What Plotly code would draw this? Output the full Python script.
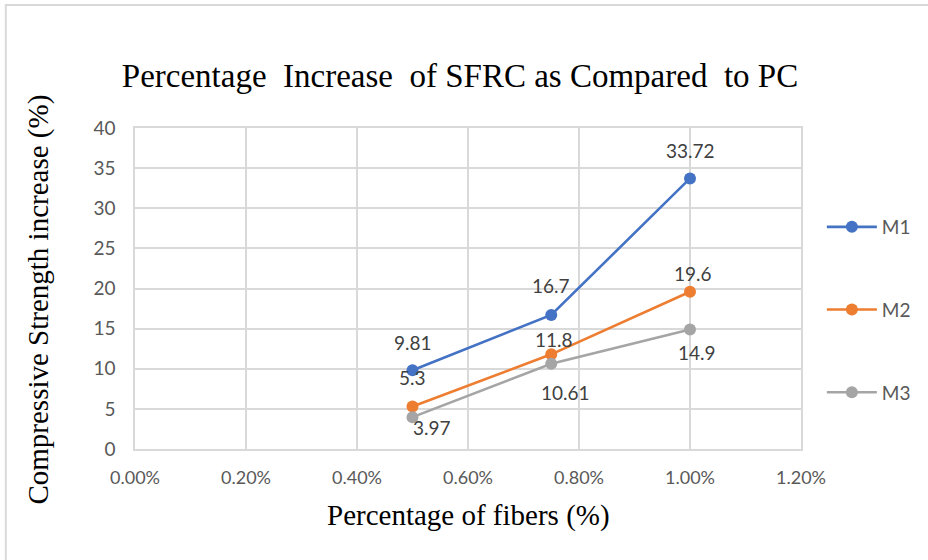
import plotly.graph_objects as go

fibers = [0.005, 0.0075, 0.010]
series_names = ["M1", "M2", "M3"]
m1 = [9.81, 16.7, 33.72]
m2 = [5.3, 11.8, 19.6]
m3 = [3.97, 10.61, 14.9]
x_ticks = [0.0, 0.002, 0.004, 0.006, 0.008, 0.010, 0.012]
x_tick_labels = ["0.00%", "0.20%", "0.40%", "0.60%", "0.80%", "1.00%", "1.20%"]
y_ticks = [0, 5, 10, 15, 20, 25, 30, 35, 40]

colors = ["#4472C4", "#ED7D31", "#A5A5A5"]
# label offsets in pixels (xshift, yshift) per series / point
label_offsets = [
    [(0, 28), (0, 29), (0, 28)],
    [(0, 29), (3, 15), (3, 18)],
    [(19, -10), (14, -29), (7, -23)],
]

fig = go.Figure()
for i, (name, vals) in enumerate(zip(series_names, [m1, m2, m3])):
    fig.add_trace(go.Scatter(
        x=fibers, y=vals, name=name, mode="lines+markers",
        line=dict(color=colors[i], width=2.6),
        marker=dict(color=colors[i], size=12),
        legendgroup=name,
    ))
    for j, (xv, yv) in enumerate(zip(fibers, vals)):
        dx, dy = label_offsets[i][j]
        fig.add_annotation(
            x=xv, y=yv, text=f"{yv:g}", showarrow=False,
            xshift=dx, yshift=dy,
            font=dict(family="Lato, Open Sans, sans-serif", size=19, color="#404040"),
        )

# axis titles
fig.add_annotation(
    xref="paper", yref="paper", x=(37 - 135) / 670, y=(449 - 300) / 321,
    xanchor="center", yanchor="middle",
    text="Compressive Strength increase (%)", textangle=-90, showarrow=False,
    font=dict(family="Liberation Serif, Times New Roman, serif", size=29, color="#000000"),
)
fig.add_annotation(
    xref="paper", yref="paper", x=(470 - 135) / 670, y=(449 - 515) / 321,
    xanchor="center", yanchor="middle",
    text="Percentage of fibers (%)", showarrow=False,
    font=dict(family="Liberation Serif, Times New Roman, serif", size=29, color="#000000"),
)

# outer chart border
fig.add_shape(
    type="rect", xref="paper", yref="paper",
    x0=(5 - 135) / 670, x1=(940 - 135) / 670,
    y0=(449 - 570) / 321, y1=(449 - 5) / 321,
    line=dict(color="#D9D9D9", width=2), fillcolor="rgba(0,0,0,0)", layer="below",
)

fig.update_layout(
    width=928, height=560,
    margin=dict(l=135, r=123, t=128, b=111),
    paper_bgcolor="white", plot_bgcolor="white",
    title=dict(
        text="Percentage&nbsp; Increase&nbsp; of SFRC as Compared&nbsp; to PC",
        x=460 / 928, xanchor="center", y=1 - 75 / 560, yanchor="middle",
        font=dict(family="Liberation Serif, Times New Roman, serif", size=33, color="#000000"),
    ),
    xaxis=dict(
        range=[0, 0.012], tickvals=x_ticks, ticktext=x_tick_labels,
        showgrid=True, gridcolor="#D9D9D9", gridwidth=1.5,
        showline=True, linecolor="#D9D9D9", linewidth=1.5, mirror=True,
        zeroline=False, ticks="", ticklabelstandoff=12,
        tickfont=dict(family="Lato, Open Sans, sans-serif", size=18, color="#595959"),
    ),
    yaxis=dict(
        range=[0, 40], tickvals=y_ticks,
        showgrid=True, gridcolor="#D9D9D9", gridwidth=1.5,
        showline=True, linecolor="#D9D9D9", linewidth=1.5, mirror=True,
        zeroline=False, ticks="", ticklabelstandoff=14,
        tickfont=dict(family="Lato, Open Sans, sans-serif", size=19, color="#595959"),
    ),
    legend=dict(
        x=(826 - 135) / 670, xanchor="left", y=(449 - 208) / 321, yanchor="top",
        itemwidth=50, tracegroupgap=55,
        font=dict(family="Lato, Open Sans, sans-serif", size=19, color="#595959"),
        bgcolor="rgba(0,0,0,0)",
    ),
)

fig.write_html("out.html")
